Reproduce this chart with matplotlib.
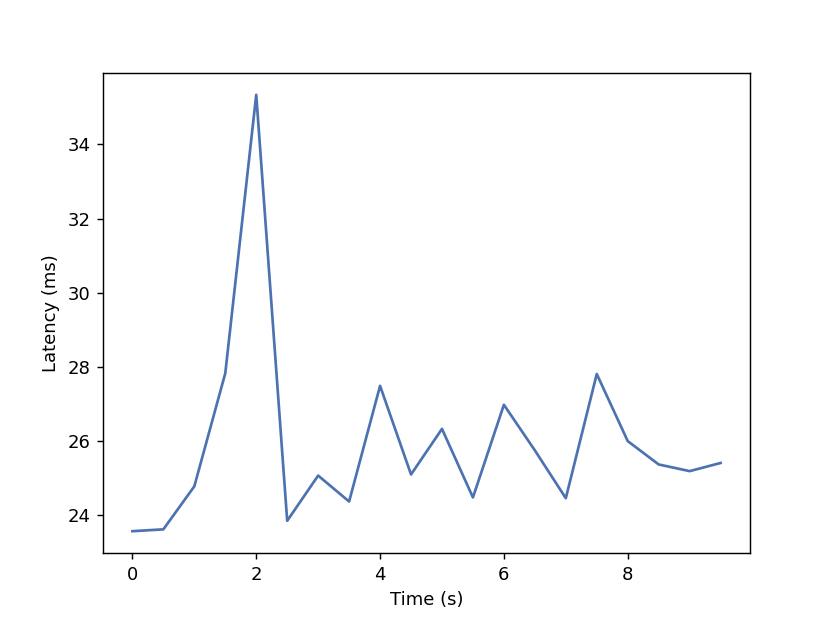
import matplotlib
matplotlib.use("Agg")
import matplotlib.pyplot as plt

# latency samples every 0.5 s
time_s = [0.0, 0.5, 1.0, 1.5, 2.0, 2.5, 3.0, 3.5, 4.0, 4.5,
          5.0, 5.5, 6.0, 6.5, 7.0, 7.5, 8.0, 8.5, 9.0, 9.5]
latency_ms = [23.57, 23.62, 24.78, 27.83, 35.34, 23.85, 25.07, 24.37, 27.49, 25.10,
              26.33, 24.48, 26.98, 25.75, 24.46, 27.81, 26.00, 25.37, 25.19, 25.41]

DPI = 129.375
fig = plt.figure(figsize=(828 / DPI, 619 / DPI), dpi=DPI)
ax = fig.add_axes([0.1244, 0.1066, 0.7814, 0.7755])
ax.plot(time_s, latency_ms, color="#4C72B0", linewidth=1.5)
ax.set_xlabel("Time (s)")
ax.set_ylabel("Latency (ms)")
fig.savefig("out.png", dpi=DPI)
